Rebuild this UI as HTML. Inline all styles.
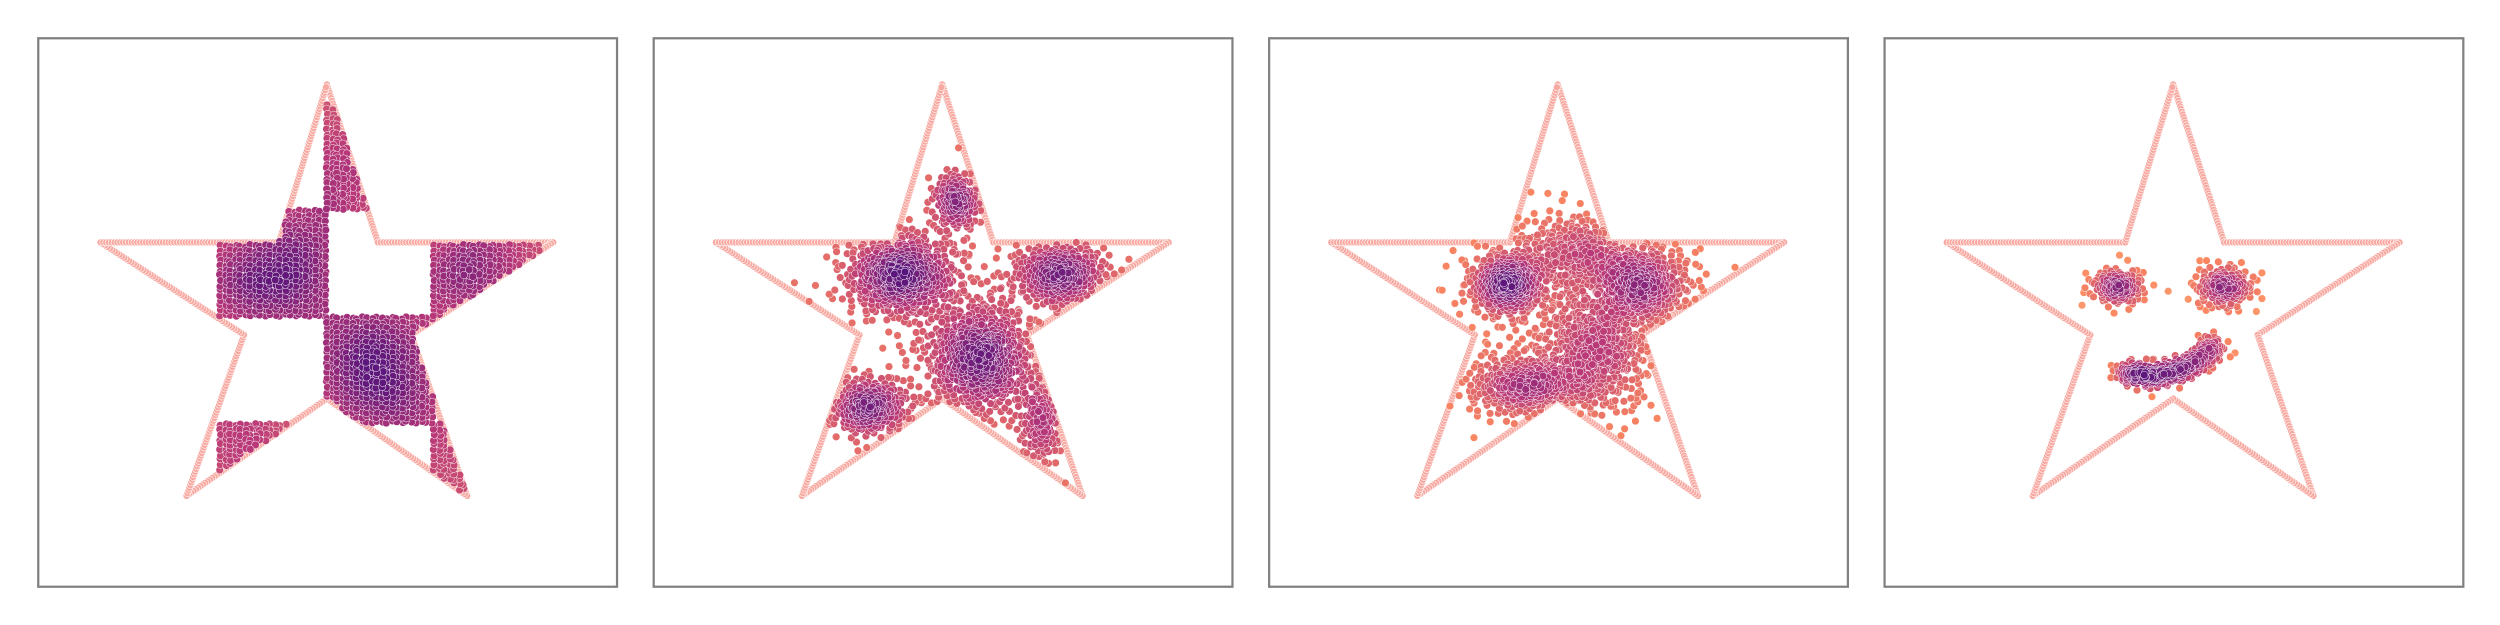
<!DOCTYPE html>
<html><head><meta charset="utf-8"><style>html,body{margin:0;padding:0;background:#fff}svg{display:block}</style></head>
<body>
<svg id="chart" width="2500" height="625" viewBox="0 0 1568 392" xmlns="http://www.w3.org/2000/svg"></svg>
<script>
// Panel left edges (thumb units) and star outline vertices (relative to panel)
const panelLefts = [24, 410, 796, 1182];
const starX = [181, 213, 323, 234, 269, 181, 93, 129, 39, 151];
const starY = [53, 152, 152, 210, 311, 250, 311, 210, 152, 152];
// Panel 1: checkerboard cells [col,row], grid origin 113,64, cell 67
const cellCols = [1, 0, 2, 1, 0, 2];
const cellRows = [0, 1, 1, 2, 3, 3];
// Clusters: [cx, cy, sx, sy, n]
const clusters2 = [[190,126,8,10,150],[155,172,19,14,520],[255,172,16,11,320],[205,225,18,19,600],[135,255,14,10,260],[243,268,8,14,120],[250,240,8,12,90],[190,200,32,32,70]];
const clusters3 = [[149,178,12,10,320],[234,178,16,13,360],[194,158,22,13,280],[205,220,18,22,420],[160,242,20,10,320],[192,200,42,34,300]];
const clusters4 = [[146,180,9,6,130],[213,180,10,7,150],[155,234,6,4,70],[168,236,6,4,70],[182,233,6,4,70],[195,227,6,4,60],[205,218,5,4,50]];

const svg = document.getElementById('chart');
const NS = 'http://www.w3.org/2000/svg';
function halton(i, b){let f=1,r=0;while(i>0){f/=b;r+=f*(i%b);i=Math.floor(i/b);}return r;}
function inStar(x,y){let c=false;for(let i=0,j=starX.length-1;i<starX.length;j=i++){const xi=starX[i],yi=starY[i],xj=starX[j],yj=starY[j];if(((yi>y)!=(yj>y))&&(x<(xj-xi)*(y-yi)/(yj-yi)+xi))c=!c;}return c;}
const magma=[[0,[0,0,4]],[0.25,[81,18,124]],[0.5,[183,55,121]],[0.75,[252,137,97]],[1,[252,253,191]]];
function cmap(t){for(let i=1;i<magma.length;i++){if(t<=magma[i][0]){const a=magma[i-1],b=magma[i],u=(t-a[0])/(b[0]-a[0]);return 'rgb('+a[1].map((v,k)=>Math.round(v+(b[1][k]-v)*u)).join(',')+')';}}return 'rgb(252,253,191)';}

function drawPanel(p, pts, rad, tHi, tSpan){
  const L = panelLefts[p];
  const g = document.createElementNS(NS,'g');
  
  
  g.setAttribute('transform','translate('+L+',0)');
  svg.appendChild(g);
  const fr = document.createElementNS(NS,'rect');
  
  
  fr.setAttribute('x',0);fr.setAttribute('y',24);fr.setAttribute('width',363);fr.setAttribute('height',344);
  fr.setAttribute('fill','none');fr.setAttribute('stroke','#808080');fr.setAttribute('stroke-width',1.4);
  g.appendChild(fr);
  const og = document.createElementNS(NS,'g');
  
  
  g.appendChild(og);
  for(let i=0;i<starX.length;i++){
    const j=(i+1)%starX.length, dx=starX[j]-starX[i], dy=starY[j]-starY[i], len=Math.hypot(dx,dy), n=Math.ceil(len/1.8);
    for(let k=0;k<n;k++){const c=document.createElementNS(NS,'circle');
      c.setAttribute('cx',(starX[i]+dx*k/n).toFixed(2));c.setAttribute('cy',(starY[i]+dy*k/n).toFixed(2));
      c.setAttribute('r',2.2);c.setAttribute('fill','#f8a9a1');c.setAttribute('stroke','#fff');c.setAttribute('stroke-width',0.35);og.appendChild(c);}
  }
  const R2=rad*rad, dens=pts.map(()=>0);
  for(let i=0;i<pts.length;i++)for(let j=i+1;j<pts.length;j++){const dx=pts[i][0]-pts[j][0],dy=pts[i][1]-pts[j][1];if(dx*dx+dy*dy<R2){dens[i]++;dens[j]++;}}
  const mx=Math.max(1,...dens);
  const order=pts.map((_,i)=>i).sort((a,b)=>dens[a]-dens[b]);
  const sg=document.createElementNS(NS,'g');
  
  
  g.appendChild(sg);
  for(const i of order){const c=document.createElementNS(NS,'circle');
    c.setAttribute('cx',pts[i][0].toFixed(2));c.setAttribute('cy',pts[i][1].toFixed(2));c.setAttribute('r',2.4);
    c.setAttribute('fill',cmap(tHi-tSpan*dens[i]/mx));c.setAttribute('stroke','#fff');c.setAttribute('stroke-width',0.3);sg.appendChild(c);}
}

let p1=[];
for(let c=0;c<cellCols.length;c++){const x0=113+cellCols[c]*67, y0=64+cellRows[c]*67;
  let idx=1;
  for(let yy=1.5;yy<67;yy+=3.1)for(let xx=1.5;xx<67;xx+=3.1){idx++;const x=x0+xx+(halton(idx,2)-0.5)*1.6,y=y0+yy+(halton(idx,3)-0.5)*1.6;if(inStar(x,y))p1.push([x,y]);}
}
drawPanel(0,p1,26,0.62,0.34);
function clusterPts(cl){const pts=[];let idx=1;for(const [cx,cy,sx,sy,n] of cl){for(let k=0;k<n;k++){idx++;const u=Math.max(1e-6,halton(idx,2)),v=halton(idx,3),r=Math.sqrt(-2*Math.log(u));const x=cx+sx*r*Math.cos(2*Math.PI*v),y=cy+sy*r*Math.sin(2*Math.PI*v);if(inStar(x,y))pts.push([x,y]);}}return pts;}
drawPanel(1,clusterPts(clusters2),10,0.68,0.42);
drawPanel(2,clusterPts(clusters3),10,0.74,0.46);
drawPanel(3,clusterPts(clusters4),8,0.78,0.5);
</script>
</body></html>
